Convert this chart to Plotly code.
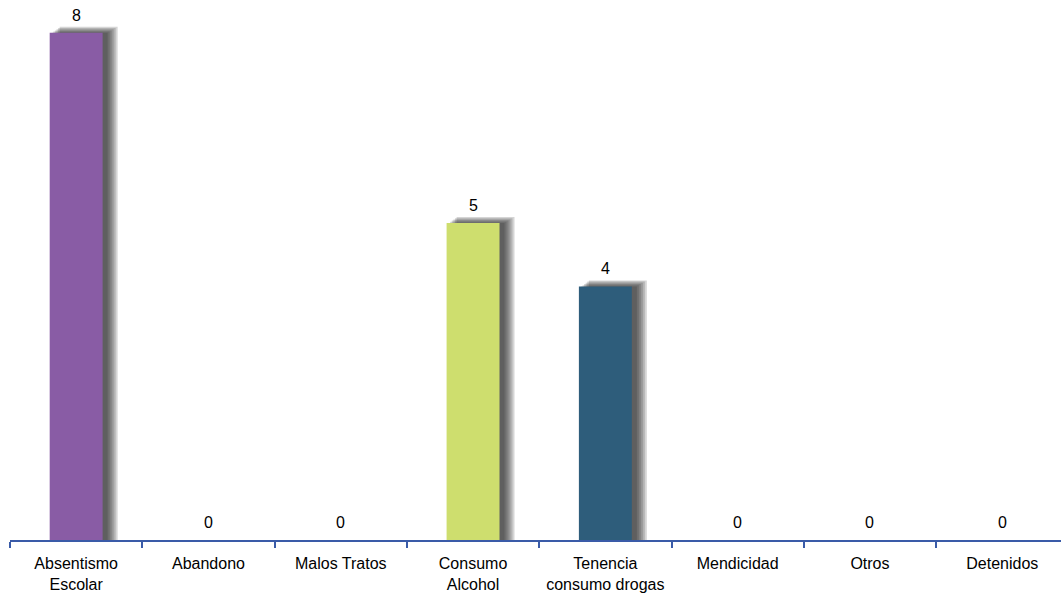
import plotly.graph_objects as go

categories = ["Absentismo<br>Escolar", "Abandono", "Malos Tratos", "Consumo<br>Alcohol",
              "Tenencia<br>consumo drogas", "Mendicidad", "Otros", "Detenidos"]
values = [8, 0, 0, 5, 4, 0, 0, 0]
bar_colors = ["#895ca5", "#895ca5", "#895ca5", "#cede6e", "#2e5d7b", "#2e5d7b", "#2e5d7b", "#2e5d7b"]

px_per_cat = 132.3
px_per_unit = 63.4
bw = 0.4

fig = go.Figure()

# soft drop shadow layers (blurred rectangle shifted right, only visible right/top)
for r in [10, 8, 6, 4, 2, 0]:
    left_px = 2 + r * 0.8
    right_px = 5 + r
    fig.add_trace(go.Bar(
        x=categories,
        y=[v + (r * 0.6) / px_per_unit if v > 0 else 0 for v in values],
        width=bw + (right_px - left_px) / px_per_cat,
        offset=-bw / 2 + left_px / px_per_cat,
        marker=dict(color="rgba(30,30,30,0.19)", line=dict(width=0)),
        hoverinfo="skip", showlegend=False,
    ))

fig.add_trace(go.Bar(
    x=categories, y=values, width=bw,
    marker=dict(color=bar_colors, line=dict(width=0)),
    hoverinfo="skip", showlegend=False,
))

for c, v in zip(categories, values):
    fig.add_annotation(x=c, y=v, text=str(v), showarrow=False,
                       yanchor="bottom", yshift=7,
                       font=dict(size=16, color="#000000"))

fig.update_layout(
    width=1061, height=594,
    margin=dict(l=10, r=0, t=0, b=54, autoexpand=False),
    paper_bgcolor="white", plot_bgcolor="white",
    barmode="overlay",
    font=dict(family="Liberation Sans, Arial, sans-serif", size=16, color="#000000"),
    xaxis=dict(
        type="category", categoryorder="array", categoryarray=categories,
        range=[-0.5, -0.5 + 1051 / px_per_cat],
        showline=True, linecolor="#3a5ba8", linewidth=2,
        ticks="outside", tickson="boundaries", ticklen=6, tickwidth=2, tickcolor="#3a5ba8",
        showgrid=False, zeroline=False, tickfont=dict(size=16),
        ticklabelstandoff=8, automargin=False,
    ),
    yaxis=dict(range=[0, 540 / px_per_unit], visible=False, showgrid=False, zeroline=False),
)

fig.write_html("out.html", config={"displayModeBar": False},
               post_script="document.body.style.margin='0';document.body.style.overflow='hidden';")
